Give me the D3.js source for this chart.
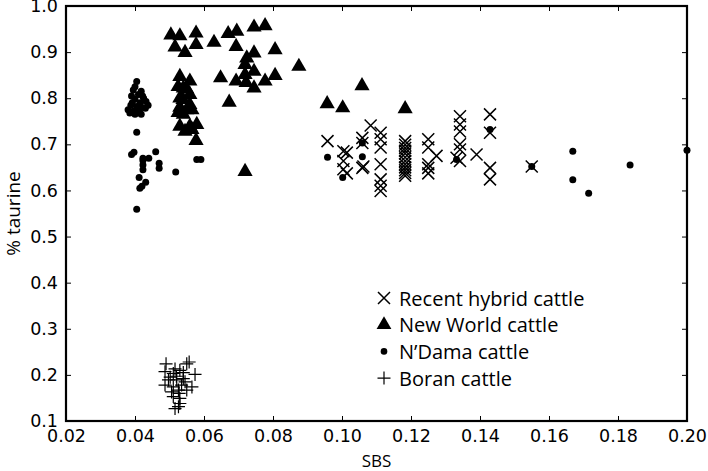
<!DOCTYPE html>
<html>
<head>
<meta charset="utf-8">
<script src="https://cdn.jsdelivr.net/npm/d3@7"></script>
<style>
  body { margin: 0; background: #fff; }
  svg { display: block; }
  .tick-label { font-family: "DejaVu Sans", sans-serif; font-size: 17.5px; fill: #000; }
  .axis-title, .legend-label { font-family: "Open Sans", sans-serif; fill: #000; }
</style>
</head>
<body>
<svg id="chart" width="708" height="471"></svg>
<script>
const WIDTH = 708;
const HEIGHT = 471;

/* axis ticks */
const xTicks = [0.02, 0.04, 0.06, 0.08, 0.10, 0.12, 0.14, 0.16, 0.18, 0.20];
const yTicks = [0.1, 0.2, 0.3, 0.4, 0.5, 0.6, 0.7, 0.8, 0.9, 1.0];

/* series: [SBS, % taurine] */
const hybridCattle = [
    [0.0958, 0.707], [0.1004, 0.685], [0.1014, 0.682], [0.1004, 0.664], [0.1004, 0.646],
    [0.1014, 0.637], [0.1059, 0.714], [0.1059, 0.703], [0.1059, 0.649], [0.1062, 0.652],
    [0.1083, 0.741], [0.1112, 0.725], [0.1112, 0.711], [0.1112, 0.693], [0.1112, 0.657],
    [0.1112, 0.624], [0.1112, 0.610], [0.1112, 0.599], [0.1183, 0.707], [0.1183, 0.699],
    [0.1183, 0.692], [0.1183, 0.686], [0.1183, 0.680], [0.1183, 0.672], [0.1183, 0.664],
    [0.1183, 0.657], [0.1183, 0.650], [0.1183, 0.644], [0.1183, 0.638], [0.1183, 0.632],
    [0.1250, 0.711], [0.1250, 0.693], [0.1274, 0.675], [0.1250, 0.657], [0.1250, 0.649],
    [0.1250, 0.637], [0.1342, 0.761], [0.1342, 0.743], [0.1342, 0.728], [0.1342, 0.700],
    [0.1342, 0.689], [0.1342, 0.664], [0.1332, 0.671], [0.1390, 0.678], [0.1429, 0.765],
    [0.1429, 0.725], [0.1429, 0.649], [0.1429, 0.624], [0.1550, 0.652]
];

const newWorldCattle = [
    [0.0504, 0.937], [0.0530, 0.935], [0.0577, 0.941], [0.0516, 0.911], [0.0545, 0.899],
    [0.0577, 0.916], [0.0629, 0.921], [0.0670, 0.940], [0.0695, 0.945], [0.0745, 0.954],
    [0.0777, 0.957], [0.0693, 0.912], [0.0806, 0.905], [0.0724, 0.887], [0.0745, 0.898],
    [0.0719, 0.873], [0.0745, 0.858], [0.0719, 0.851], [0.0875, 0.869], [0.0648, 0.844],
    [0.0693, 0.837], [0.0722, 0.834], [0.0745, 0.822], [0.0777, 0.837], [0.0806, 0.849],
    [0.0673, 0.791], [0.0719, 0.641], [0.0530, 0.847], [0.0559, 0.837], [0.0525, 0.825],
    [0.0540, 0.822], [0.0550, 0.820], [0.0559, 0.808], [0.0530, 0.800], [0.0539, 0.797],
    [0.0559, 0.786], [0.0530, 0.780], [0.0550, 0.775], [0.0565, 0.775], [0.0525, 0.769],
    [0.0540, 0.765], [0.0579, 0.743], [0.0530, 0.739], [0.0559, 0.739], [0.0545, 0.728],
    [0.0565, 0.732], [0.0577, 0.708], [0.0957, 0.788], [0.1002, 0.779], [0.1058, 0.827],
    [0.1183, 0.777]
];

const nDamaCattle = [
    [0.0405, 0.836], [0.0400, 0.825], [0.0395, 0.818], [0.0418, 0.815], [0.0390, 0.805],
    [0.0410, 0.808], [0.0425, 0.800], [0.0400, 0.798], [0.0432, 0.793], [0.0415, 0.790],
    [0.0388, 0.785], [0.0405, 0.782], [0.0420, 0.780], [0.0380, 0.775], [0.0395, 0.772],
    [0.0412, 0.770], [0.0430, 0.778], [0.0385, 0.768], [0.0400, 0.765], [0.0418, 0.765],
    [0.0438, 0.785], [0.0422, 0.805], [0.0392, 0.790], [0.0408, 0.777],
    [0.0405, 0.726], [0.0390, 0.678], [0.0397, 0.683], [0.0423, 0.670], [0.0423, 0.665],
    [0.0423, 0.655], [0.0423, 0.645], [0.0440, 0.670], [0.0460, 0.684], [0.0470, 0.659],
    [0.0470, 0.648], [0.0412, 0.628], [0.0414, 0.605], [0.0420, 0.609], [0.0431, 0.618],
    [0.0405, 0.559], [0.0518, 0.640], [0.0579, 0.667], [0.0591, 0.667],
    [0.0958, 0.672], [0.1002, 0.628], [0.1059, 0.703], [0.1059, 0.673], [0.1332, 0.667],
    [0.1429, 0.732], [0.1550, 0.652], [0.1669, 0.685], [0.1669, 0.623], [0.1715, 0.594],
    [0.1835, 0.655], [0.2000, 0.687]
];

const boranCattle = [
    [0.0490, 0.224], [0.0516, 0.213], [0.0550, 0.224], [0.0557, 0.228], [0.0487, 0.207],
    [0.0511, 0.203], [0.0530, 0.210], [0.0574, 0.201], [0.0497, 0.189], [0.0521, 0.189],
    [0.0540, 0.192], [0.0487, 0.178], [0.0511, 0.174], [0.0535, 0.178], [0.0565, 0.174],
    [0.0506, 0.163], [0.0526, 0.167], [0.0550, 0.167], [0.0511, 0.153], [0.0530, 0.149],
    [0.0516, 0.127], [0.0526, 0.131], [0.0530, 0.138], [0.0520, 0.197], [0.0545, 0.185],
    [0.0502, 0.195], [0.0528, 0.160], [0.0540, 0.205]
];

const legendLabels = ['Recent hybrid cattle', 'New World cattle', 'N\u2019Dama cattle', 'Boran cattle'];

const margin = { top: 6, right: 21, bottom: 50, left: 66 };

const svg = d3.select('#chart');

const x = d3.scaleLinear()
    .domain([0.02, 0.20])
    .range([margin.left, WIDTH - margin.right]);

const y = d3.scaleLinear()
    .domain([0.1, 1.0])
    .range([HEIGHT - margin.bottom, margin.top]);

// marker shapes drawn as paths centred on the point
function crossPath(s) {
    return `M${-s},${-s}L${s},${s}M${-s},${s}L${s},${-s}`;
}
function plusPath(s) {
    return `M${-s},0L${s},0M0,${-s}L0,${s}`;
}
const triangle = d3.symbol().type(d3.symbolTriangle).size(100)();

const markers = [
    { data: hybridCattle, draw: (g) => g.append('path').attr('d', crossPath(6))
        .attr('fill', 'none').attr('stroke', '#000').attr('stroke-width', 1.5) },
    { data: newWorldCattle, draw: (g) => g.append('path').attr('d', triangle).attr('fill', '#000') },
    { data: nDamaCattle, draw: (g) => g.append('circle').attr('r', 3.5).attr('fill', '#000') },
    { data: boranCattle, draw: (g) => g.append('path').attr('d', plusPath(6.5))
        .attr('fill', 'none').attr('stroke', '#000').attr('stroke-width', 1.2) }
];

const plot = svg.append('g');

markers.forEach((m) => {
    plot.selectAll(null)
        .data(m.data)
        .enter()
        .append('g')
        .attr('transform', (d) => `translate(${x(d[0])},${y(d[1])})`)
        .each(function () { m.draw(d3.select(this)); });
});

// axes: ticks inward on all four sides, labels on bottom and left
const tickLen = 5;
const xAxisBottom = d3.axisBottom(x).tickValues(xTicks).tickSize(-tickLen).tickPadding(9)
    .tickFormat(d3.format('.2f'));
const xAxisTop = d3.axisTop(x).tickValues(xTicks).tickSize(-tickLen).tickFormat('');
const yAxisLeft = d3.axisLeft(y).tickValues(yTicks).tickSize(-tickLen).tickPadding(8)
    .tickFormat(d3.format('.1f'));
const yAxisRight = d3.axisRight(y).tickValues(yTicks).tickSize(-tickLen).tickFormat('');

function styleAxis(g) {
    g.select('.domain').remove();
    g.selectAll('.tick line').attr('stroke', '#000').attr('stroke-width', 1);
    g.selectAll('.tick text').attr('class', 'tick-label');
}

svg.append('g').attr('transform', `translate(0,${HEIGHT - margin.bottom})`).call(xAxisBottom).call(styleAxis);
svg.append('g').attr('transform', `translate(0,${margin.top})`).call(xAxisTop).call(styleAxis);
svg.append('g').attr('transform', `translate(${margin.left},0)`).call(yAxisLeft).call(styleAxis);
svg.append('g').attr('transform', `translate(${WIDTH - margin.right},0)`).call(yAxisRight).call(styleAxis);

// frame
svg.append('rect')
    .attr('x', margin.left)
    .attr('y', margin.top)
    .attr('width', WIDTH - margin.left - margin.right)
    .attr('height', HEIGHT - margin.top - margin.bottom)
    .attr('fill', 'none')
    .attr('stroke', '#000')
    .attr('stroke-width', 2.2);

// axis titles
svg.append('text')
    .attr('class', 'axis-title')
    .attr('x', (margin.left + WIDTH - margin.right) / 2)
    .attr('y', 467)
    .attr('text-anchor', 'middle')
    .style('font-size', '17px')
    .text('SBS');

svg.append('text')
    .attr('class', 'axis-title')
    .attr('transform', `translate(20,${(margin.top + HEIGHT - margin.bottom) / 2})rotate(-90)`)
    .attr('text-anchor', 'middle')
    .style('font-size', '19px')
    .text('% taurine');

// legend
const legend = svg.append('g').attr('transform', 'translate(384,298)');
const legendRowH = 26.7;

legendLabels.forEach((label, i) => {
    const row = legend.append('g').attr('transform', `translate(0,${i * legendRowH})`);
    const mk = row.append('g');
    if (i === 0) mk.append('path').attr('d', crossPath(6)).attr('fill', 'none').attr('stroke', '#000').attr('stroke-width', 1.5);
    if (i === 1) mk.append('path').attr('d', d3.symbol().type(d3.symbolTriangle).size(95)()).attr('fill', '#000');
    if (i === 2) mk.append('circle').attr('r', 3.3).attr('fill', '#000');
    if (i === 3) mk.append('path').attr('d', plusPath(6.5)).attr('fill', 'none').attr('stroke', '#000').attr('stroke-width', 1.2);
    row.append('text')
        .attr('class', 'legend-label')
        .attr('x', 15)
        .attr('y', 7.5)
        .style('font-size', '20px')
        .text(label);
});
</script>
</body>
</html>
